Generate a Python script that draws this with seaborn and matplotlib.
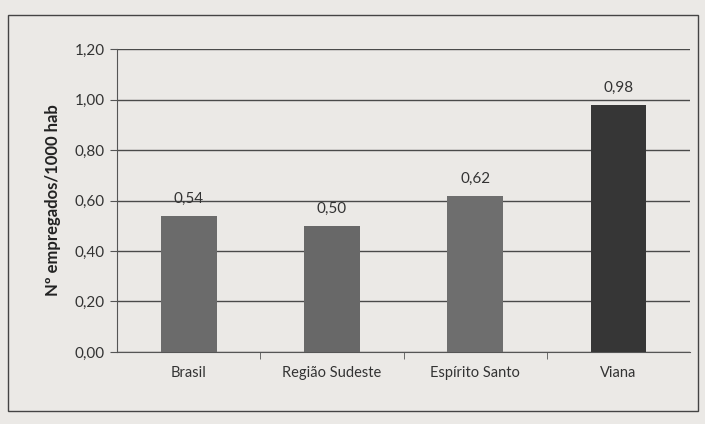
import matplotlib
matplotlib.use("Agg")
import matplotlib.pyplot as plt
import seaborn as sns
import pandas as pd
from matplotlib.patches import Rectangle

# chart data
categories = ["Brasil", "Região Sudeste", "Espírito Santo", "Viana"]
values = [0.54, 0.50, 0.62, 0.98]
bar_colors = ["#6b6b6b", "#686868", "#6e6e6e", "#363636"]
y_ticks = [0.0, 0.2, 0.4, 0.6, 0.8, 1.0, 1.2]
y_label = "Nº empregados/1000 hab"

sns.set_style("white")
plt.rcParams["font.family"] = ["Lato", "DejaVu Sans"]

bg = "#ebe9e6"
fig = plt.figure(figsize=(7.05, 4.24), dpi=100, facecolor=bg)
ax = fig.add_axes([0.166, 0.170, 0.813, 0.714])
ax.set_facecolor(bg)

df = pd.DataFrame({"cat": categories, "val": values})
sns.barplot(data=df, x="cat", y="val", hue="cat", palette=bar_colors,
            width=0.39, legend=False, ax=ax, saturation=1, zorder=3,
            linewidth=0, edgecolor="none")

ax.set_ylim(0, 1.2)
ax.set_yticks(y_ticks)
ax.set_yticklabels([f"{t:.2f}".replace(".", ",") for t in y_ticks])
ax.yaxis.grid(True, color="#4a4a4a", linewidth=1.0, zorder=0)
ax.set_axisbelow(True)

for s in ["top", "right"]:
    ax.spines[s].set_visible(False)
ax.spines["left"].set_color("#555555")
ax.spines["bottom"].set_color("#555555")

ax.tick_params(axis="y", length=5, color="#555555", labelsize=11, labelcolor="#333333", pad=4, left=True)
ax.tick_params(axis="x", length=0, labelsize=10.5, labelcolor="#333333", pad=10)
# minor ticks between categories like Excel
ax.set_xticks([0.5, 1.5, 2.5], minor=True)
ax.tick_params(axis="x", which="minor", length=5, color="#555555", bottom=True)

for i, v in enumerate(values):
    ax.text(i, v + 0.04, f"{v:.2f}".replace(".", ","), ha="center", va="bottom",
            fontsize=11, color="#333333")

ax.set_xlabel("")
ax.set_ylabel(y_label, fontsize=12, fontweight="bold", color="#222222", labelpad=10)

fig.patches.append(Rectangle((0.012, 0.03), 0.978, 0.935, transform=fig.transFigure,
                             fill=False, edgecolor="#444444", linewidth=1.0))

fig.savefig("out.png", dpi=100, facecolor=bg)
